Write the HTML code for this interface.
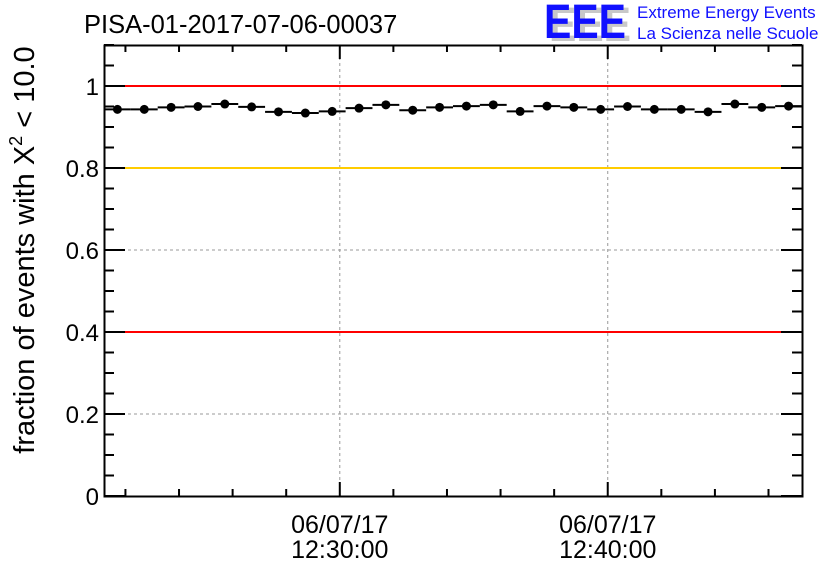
<!DOCTYPE html>
<html><head><meta charset="utf-8"><style>
html,body{margin:0;padding:0;background:#fff;}
svg{display:block;font-family:"Liberation Sans",sans-serif;}
</style></head><body>
<svg id="chart" width="836" height="572" viewBox="0 0 836 572">
<text x="84" y="33" font-size="25.5" fill="#000">PISA-01-2017-07-06-00037</text>
<g>
<text x="549" y="41" font-size="48" font-weight="bold" fill="#c8c8c8" textLength="82" lengthAdjust="spacingAndGlyphs">EEE</text>
<text x="544" y="38" font-size="48" font-weight="bold" fill="#1010ff" textLength="82" lengthAdjust="spacingAndGlyphs">EEE</text>
<text x="637" y="18" font-size="17" fill="#1010ff">Extreme Energy Events</text>
<text x="637" y="39" font-size="17" fill="#1010ff">La Scienza nelle Scuole</text>
</g>
<g id="grid"></g>
<g id="refs"></g>
<g id="series"></g>
<rect x="104.5" y="45.5" width="698" height="451" fill="none" stroke="#000" stroke-width="2"/>
<g id="axes"></g>
<text transform="translate(34,250) rotate(-90)" text-anchor="middle" font-size="29" fill="#000">fraction of events with X<tspan dy="-12" font-size="18">2</tspan><tspan dy="12"> &lt; 10.0</tspan></text>
</svg>
<script>
const values=[0.943,0.943,0.948,0.950,0.956,0.949,0.937,0.934,0.938,0.946,0.954,0.941,0.948,0.951,0.954,0.938,0.951,0.948,0.943,0.950,0.943,0.943,0.937,0.956,0.948,0.951];
const yTicks=[0,0.2,0.4,0.6,0.8,1];
const yTickLabels=["0","0.2","0.4","0.6","0.8","1"];
const xMajorMinutes=[8.8,18.8];
const xTickLabels=[["06/07/17","12:30:00"],["06/07/17","12:40:00"]];
const refLines=[{v:1,c:"#ff0000"},{v:0.8,c:"#ffcc00"},{v:0.4,c:"#ff0000"}];
const totalMinutes=26.05;
const NS="http://www.w3.org/2000/svg";
const L=104,R=802,T=45,B=496;
const yS=v=>B-v*410;
const xS=m=>L+m*(R-L)/totalMinutes;
function mk(tag,attrs,parent){const e=document.createElementNS(NS,tag);for(const k in attrs)e.setAttribute(k,attrs[k]);document.getElementById(parent).appendChild(e);return e;}
yTicks.forEach(v=>{if(v>0&&v<1){const e=mk('line',{x1:L,x2:R,y1:yS(v),y2:yS(v),stroke:'#999','stroke-dasharray':'3,3'},'grid');

}});
xMajorMinutes.forEach(m=>{const e=mk('line',{x1:xS(m),x2:xS(m),y1:T,y2:B,stroke:'#999','stroke-dasharray':'3,3'},'grid');

});
refLines.forEach(r=>{const e=mk('line',{x1:L,x2:R,y1:yS(r.v),y2:yS(r.v),stroke:r.c,'stroke-width':2},'refs');

});
const bw=(R-L)/values.length;
values.forEach((v,i)=>{const x0=L+i*bw,cx=x0+bw/2,y=yS(v);
const l=mk('line',{x1:x0,x2:x0+bw,y1:y,y2:y,stroke:'#000','stroke-width':2},'series');


const c=mk('circle',{cx:cx,cy:y,r:4.5,fill:'#000'},'series');

});
for(let k=0;k<=22;k++){const v=k*0.05,y=yS(v),maj=(k%4===0);
const t=mk('line',{x1:L,x2:L+(maj?21:10),y1:y,y2:y,stroke:'#000','stroke-width':2},'axes');


const t2=mk('line',{x1:R,x2:R-(maj?21:10),y1:y,y2:y,stroke:'#000','stroke-width':2},'axes');

}
yTicks.forEach((v,i)=>{const e=mk('text',{x:99,y:yS(v)+9,'text-anchor':'end','font-size':24,fill:'#000'},'axes');e.textContent=yTickLabels[i];

});
for(let m=xMajorMinutes[0]%2;m<totalMinutes;m+=2){const maj=xMajorMinutes.some(a=>Math.abs(a-m)<0.01),x=xS(m),len=maj?14:7;
const t=mk('line',{x1:x,x2:x,y1:B,y2:B-len,stroke:'#000','stroke-width':2},'axes');


const t2=mk('line',{x1:x,x2:x,y1:T,y2:T+len,stroke:'#000','stroke-width':2},'axes');

}
xMajorMinutes.forEach((m,i)=>{xTickLabels[i].forEach((s,j)=>{const e=mk('text',{x:xS(m),y:533+j*25,'text-anchor':'middle','font-size':25,fill:'#000'},'axes');e.textContent=s;

});});
</script>
</body></html>
